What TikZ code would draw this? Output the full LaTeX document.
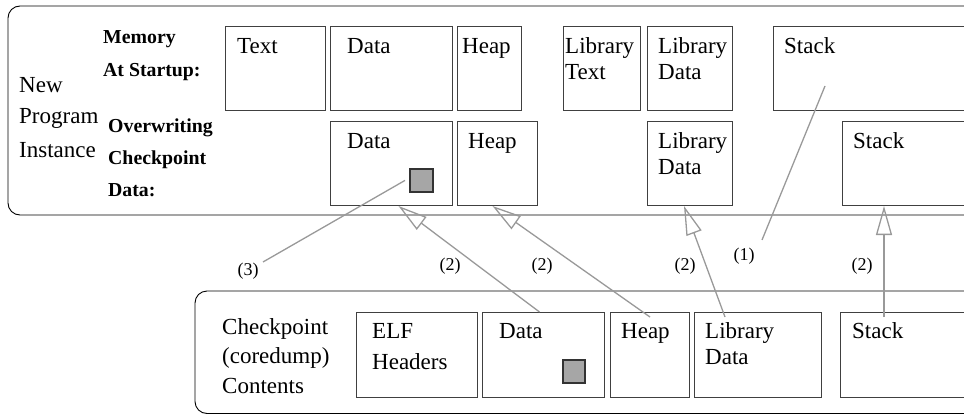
\documentclass[tikz,border=0pt]{standalone}
\usepackage{fontspec}
\setmainfont{Liberation Serif}
\usetikzlibrary{arrows.meta}
\tikzset{
  box/.style={draw=black!75, line width=1pt, inner sep=0pt, anchor=north west},
  frame/.style={draw=black, line width=0.9pt, rounded corners=12pt},
  txt/.style={anchor=base west, inner sep=0pt, font=\fontsize{23}{26}\selectfont},
  blab/.style={anchor=base west, inner sep=0pt, font=\fontsize{19.8}{22}\selectfont\bfseries},
  num/.style={inner sep=0pt, font=\fontsize{18}{20}\selectfont},
  conn/.style={draw=black!40, line width=1.3pt},
  arr/.style={conn, -{Triangle[open, length=29pt, width=16pt]}},
  sq/.style={draw=black!80, line width=1.8pt, fill=black!35, inner sep=0pt, anchor=north west}
}
\begin{document}
\begin{tikzpicture}[x=1pt, y=-1pt]
\useasboundingbox (0,0) rectangle (964,415);
\clip (0,0) rectangle (964,415);
% frames
\draw[frame] (8,6) rectangle (1000,215);
\draw[frame] (195,291) rectangle (1000,413.5);
% top row
\node[box, minimum width=100pt, minimum height=84pt] (ttext) at (225,26) {};
\node[box, minimum width=122pt, minimum height=84pt] (tdata) at (330,26) {};
\node[box, minimum width=64pt, minimum height=84pt] (theap) at (457,26) {};
\node[box, minimum width=77pt, minimum height=84pt] (tlibt) at (563,26) {};
\node[box, minimum width=85pt, minimum height=84pt] (tlibd) at (647,26) {};
\node[box, minimum width=227pt, minimum height=84pt] (tstack) at (773,26) {};
% second row
\node[box, minimum width=122pt, minimum height=84pt] (odata) at (330,121) {};
\node[box, minimum width=80pt, minimum height=84pt] (oheap) at (457,121) {};
\node[box, minimum width=85pt, minimum height=84pt] (olibd) at (647,121) {};
\node[box, minimum width=158pt, minimum height=84pt] (ostack) at (842,121) {};
\node[sq, minimum width=23pt, minimum height=23pt] (osq) at (409,168) {};
% bottom row
\node[box, minimum width=121pt, minimum height=85pt] (belf) at (356,312) {};
\node[box, minimum width=122pt, minimum height=85pt] (bdata) at (482,312) {};
\node[box, minimum width=79pt, minimum height=85pt] (bheap) at (610,312) {};
\node[box, minimum width=127pt, minimum height=85pt] (blibd) at (694,312) {};
\node[box, minimum width=160pt, minimum height=85pt] (bstack) at (840,312) {};
\node[sq, minimum width=22pt, minimum height=23pt] (bsq) at (562,359) {};
% texts top
\node[txt] (l1) at (237,53) {Text};
\node[txt] (l2) at (347,53) {Data};
\node[txt] (l3) at (462,53) {Heap};
\node[txt] (l4) at (565,53) {Library};
\node[txt] (l5) at (565,79) {Text};
\node[txt] (l6) at (658,53) {Library};
\node[txt] (l7) at (658,79) {Data};
\node[txt] (l8) at (784,53) {Stack};
\node[txt] (l9) at (347,148) {Data};
\node[txt] (l10) at (468,148) {Heap};
\node[txt] (l11) at (658,148) {Library};
\node[txt] (l12) at (658,174) {Data};
\node[txt] (l13) at (853,148) {Stack};
% left labels
\node[txt] (n1) at (19,92) {New};
\node[txt] (n2) at (19,123) {Program};
\node[txt] (n3) at (19,157) {Instance};
\node[blab] (m1) at (103,43) {Memory};
\node[blab] (m2) at (103,76) {At Startup:};
\node[blab] (m3) at (108,132) {Overwriting};
\node[blab] (m4) at (108,164) {Checkpoint};
\node[blab] (m5) at (108,196) {Data:};
% bottom texts
\node[txt] (c1t) at (222,334) {Checkpoint};
\node[txt] (c2t) at (222,363) {(coredump)};
\node[txt] (c3t) at (222,393) {Contents};
\node[txt] (b1) at (372,338) {ELF};
\node[txt] (b2) at (372,369) {Headers};
\node[txt] (b3) at (499,338) {Data};
\node[txt] (b4) at (621,338) {Heap};
\node[txt] (b5) at (705,338) {Library};
\node[txt] (b6) at (705,364) {Data};
\node[txt] (b7) at (852,338) {Stack};
% connectors
\coordinate (e3) at (263,262);
\coordinate (e1) at (762,240);
\draw[conn] ([xshift=-4pt]osq.west) -- (e3);
\draw[conn] ([xshift=52pt,yshift=-60pt]tstack.north west) -- (e1);
\draw[arr] ([xshift=-4pt]bdata.north) -- ([xshift=7pt]odata.south);
\draw[arr] ([yshift=-5pt]bheap.north) -- ([xshift=-5pt]oheap.south);
\draw[arr] ([xshift=31pt,yshift=-5pt]blibd.north west) -- ([xshift=37pt]olibd.south west);
\draw[arr] ([xshift=44pt,yshift=-5pt]bstack.north west) -- ([xshift=42pt]ostack.south west);
% numbers
\node[num] (k3) at (248,271) {(3)};
\node[num] (k2a) at (450,266) {(2)};
\node[num] (k2b) at (542,266) {(2)};
\node[num] (k2c) at (685,266) {(2)};
\node[num] (k1) at (744,256) {(1)};
\node[num] (k2d) at (862,266) {(2)};
\end{tikzpicture}
\end{document}
